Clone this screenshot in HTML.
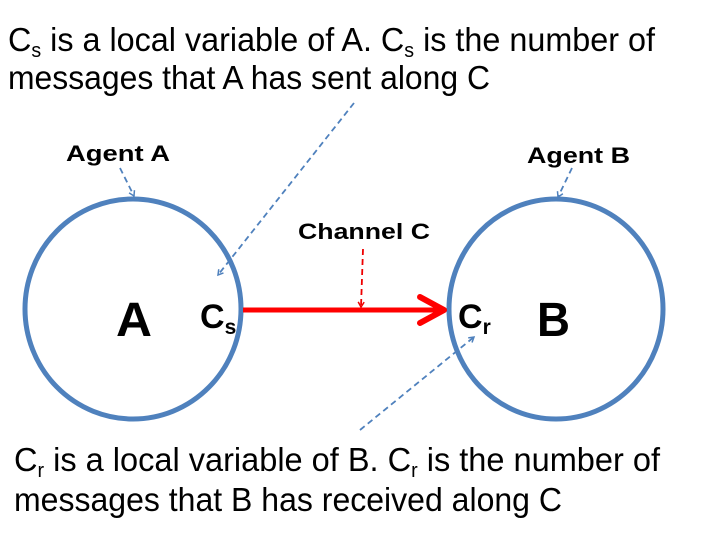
<!DOCTYPE html>
<html><head><meta charset="utf-8"><style>
html,body{margin:0;padding:0;background:#fff;width:720px;height:540px;overflow:hidden}
text{font-family:"Liberation Sans",sans-serif}
</style></head><body>
<svg width="720" height="540" viewBox="0 0 720 540">
<defs>
<marker id="bh" markerWidth="8" markerHeight="8" refX="6" refY="4" orient="auto" markerUnits="userSpaceOnUse"><path d="M1,1 L6,4 L1,7" fill="none" stroke="#4f81bd" stroke-width="1.5"/></marker>
<marker id="rh" markerWidth="8" markerHeight="8" refX="6" refY="4" orient="auto" markerUnits="userSpaceOnUse"><path d="M1,1 L6,4 L1,7" fill="none" stroke="#e00" stroke-width="1.5"/></marker>
</defs>
<text x="8" y="51" font-size="33" textLength="647" lengthAdjust="spacingAndGlyphs">C<tspan font-size="20" dy="6">s</tspan><tspan dy="-6"> is a local variable of A. C</tspan><tspan font-size="20" dy="6">s</tspan><tspan dy="-6"> is the number of</tspan></text>
<text x="8" y="89" font-size="33" textLength="482" lengthAdjust="spacingAndGlyphs">messages that A has sent along C</text>
<text x="14" y="471" font-size="33" textLength="646" lengthAdjust="spacingAndGlyphs">C<tspan font-size="20" dy="6">r</tspan><tspan dy="-6"> is a local variable of B. C</tspan><tspan font-size="20" dy="6">r</tspan><tspan dy="-6"> is the number of</tspan></text>
<text x="14" y="511" font-size="33" textLength="548" lengthAdjust="spacingAndGlyphs">messages that B has received along C</text>
<ellipse cx="133" cy="309" rx="108" ry="110" fill="none" stroke="#4f81bd" stroke-width="5"/>
<ellipse cx="556" cy="309" rx="107" ry="110" fill="none" stroke="#4f81bd" stroke-width="5"/>
<text x="66" y="161" font-size="22" font-weight="bold" textLength="104" lengthAdjust="spacingAndGlyphs">Agent A</text>
<text x="527" y="163" font-size="22" font-weight="bold" textLength="103" lengthAdjust="spacingAndGlyphs">Agent B</text>
<text x="298" y="239" font-size="22" font-weight="bold" textLength="132" lengthAdjust="spacingAndGlyphs">Channel C</text>
<text x="116" y="336" font-size="48" font-weight="bold" textLength="36" lengthAdjust="spacingAndGlyphs">A</text>
<text x="537" y="336" font-size="48" font-weight="bold" textLength="33" lengthAdjust="spacingAndGlyphs">B</text>
<text x="200" y="328" font-size="34" font-weight="bold">C<tspan font-size="21" dy="6">s</tspan></text>
<text x="458" y="328" font-size="34" font-weight="bold">C<tspan font-size="21" dy="6">r</tspan></text>
<line x1="243" y1="310" x2="444" y2="310" stroke="#f00" stroke-width="5"/>
<path d="M420,297 L444,310 L420,323" fill="none" stroke="#f00" stroke-width="6" stroke-linejoin="round" stroke-linecap="round"/>
<g stroke="#4f81bd" stroke-width="1.8" stroke-dasharray="6,4" fill="none">
<line x1="120" y1="168" x2="134" y2="196" marker-end="url(#bh)"/>
<line x1="572" y1="168" x2="558" y2="197" marker-end="url(#bh)"/>
<line x1="354" y1="103" x2="218" y2="275" marker-end="url(#bh)"/>
<line x1="360" y1="430" x2="474" y2="337" marker-end="url(#bh)"/>
</g>
<line x1="363" y1="249" x2="361" y2="307" stroke="#e00" stroke-width="1.8" stroke-dasharray="6,4" marker-end="url(#rh)"/>
</svg>
</body></html>
